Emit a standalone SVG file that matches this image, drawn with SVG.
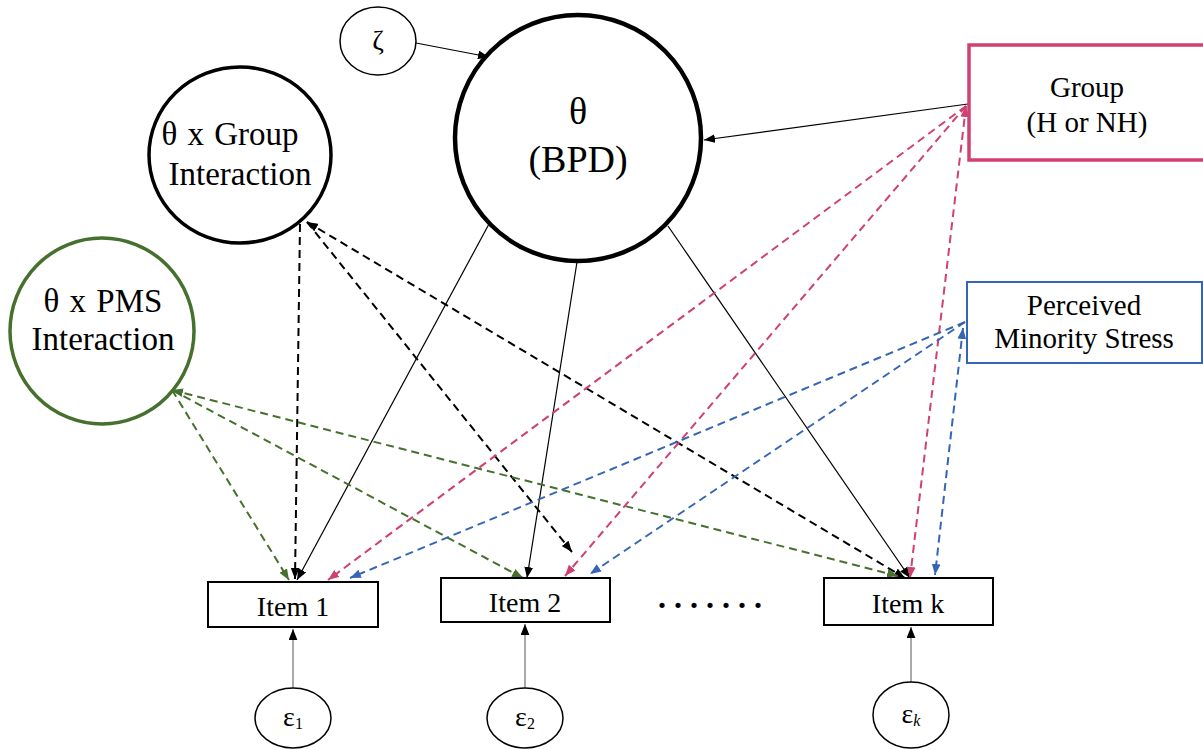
<svg xmlns="http://www.w3.org/2000/svg" width="1203" height="750" viewBox="0 0 1203 750">
<style>
text{font-family:"Liberation Serif","Times New Roman",serif;fill:#000;text-anchor:middle}
.solid{stroke:#000;stroke-width:1.2;fill:none}
.thin{stroke:#555;stroke-width:1;fill:none}
.dk{stroke:#000;stroke-width:2;stroke-dasharray:8 5;fill:none}
.gr{stroke:#46702d;stroke-width:2;stroke-dasharray:8 5;fill:none}
.pk{stroke:#cf4170;stroke-width:2;stroke-dasharray:8 5;fill:none}
.bl{stroke:#3565b5;stroke-width:2;stroke-dasharray:8 5;fill:none}
.box{fill:#fff;stroke:#000;stroke-width:2}
.ell{fill:#fff;stroke:#000;stroke-width:1.5}
</style>
<defs>
<marker id="aK" viewBox="0 0 10 8" refX="10" refY="4" markerWidth="11" markerHeight="9" markerUnits="userSpaceOnUse" orient="auto-start-reverse"><path d="M0,0 L10,4 L0,8 z" fill="#000"/></marker>
<marker id="aG" viewBox="0 0 10 8" refX="10" refY="4" markerWidth="11" markerHeight="9" markerUnits="userSpaceOnUse" orient="auto-start-reverse"><path d="M0,0 L10,4 L0,8 z" fill="#46702d"/></marker>
<marker id="aP" viewBox="0 0 10 8" refX="10" refY="4" markerWidth="11" markerHeight="9" markerUnits="userSpaceOnUse" orient="auto-start-reverse"><path d="M0,0 L10,4 L0,8 z" fill="#cf4170"/></marker>
<marker id="aB" viewBox="0 0 10 8" refX="10" refY="4" markerWidth="11" markerHeight="9" markerUnits="userSpaceOnUse" orient="auto-start-reverse"><path d="M0,0 L10,4 L0,8 z" fill="#3565b5"/></marker>
</defs>
<rect width="1203" height="750" fill="#fff"/>
<g id="connectors">
<path class="solid" d="M416,43 L489,57" marker-end="url(#aK)"/>
<path class="solid" d="M968,104 L704,140" marker-end="url(#aK)"/>
<path class="solid" d="M489,224 L297,580" marker-end="url(#aK)"/>
<path class="solid" d="M577,262 L527,578" marker-end="url(#aK)"/>
<path class="solid" d="M668,226 L910,578" marker-end="url(#aK)"/>
<path class="dk" d="M300,224 L295,579" marker-end="url(#aK)"/>
<path class="dk" d="M307,222 L572,552" marker-end="url(#aK)"/>
<path class="dk" d="M307,222 L905,578" marker-start="url(#aK)" marker-end="url(#aK)"/>
<path class="gr" d="M172,390 L289,580" marker-end="url(#aG)"/>
<path class="gr" d="M172,390 L523,578" marker-end="url(#aG)"/>
<path class="gr" d="M172,390 L898,576" marker-start="url(#aG)" marker-end="url(#aG)"/>
<path class="pk" d="M966,106 L328,580" marker-end="url(#aP)"/>
<path class="pk" d="M966,106 L565,576" marker-end="url(#aP)"/>
<path class="pk" d="M966,106 L910,578" marker-start="url(#aP)" marker-end="url(#aP)"/>
<path class="bl" d="M965,322 L350,578" marker-end="url(#aB)"/>
<path class="bl" d="M965,322 L590,574" marker-end="url(#aB)"/>
<path class="bl" d="M963,328 L935,575" marker-start="url(#aB)" marker-end="url(#aB)"/>
<path class="thin" d="M293,688 L293,629" marker-end="url(#aK)"/>
<path class="thin" d="M525,688 L525,624" marker-end="url(#aK)"/>
<path class="thin" d="M911,682 L911,627" marker-end="url(#aK)"/>
</g>
<g id="zeta">
<ellipse class="ell" cx="378" cy="41" rx="38" ry="34"/>
<text x="378" y="50" font-size="28">ζ</text>
</g>
<g id="theta">
<circle cx="578" cy="138" r="123" fill="#fff" stroke="#000" stroke-width="4.5"/>
<text x="578" y="124" font-size="38">θ</text>
<text x="578" y="172" font-size="38">(BPD)</text>
</g>
<g id="group">
<rect x="969" y="45" width="240" height="115" fill="#fff" stroke="#cf4170" stroke-width="3.5"/>
<text x="1087" y="97" font-size="29">Group</text>
<text x="1087" y="132" font-size="29">(H or NH)</text>
</g>
<g id="group-interaction">
<ellipse cx="240" cy="155" rx="91" ry="88" fill="#fff" stroke="#000" stroke-width="3.5"/>
<text x="230" y="145" font-size="33" word-spacing="2">θ x Group</text>
<text x="240" y="185" font-size="33">Interaction</text>
</g>
<g id="pms-interaction">
<ellipse cx="102" cy="331" rx="92" ry="93" fill="#fff" stroke="#46702d" stroke-width="3.5"/>
<text x="103" y="312" font-size="33" word-spacing="2">θ x PMS</text>
<text x="103" y="350" font-size="33">Interaction</text>
</g>
<g id="pms">
<rect x="967" y="282" width="235" height="81" fill="#fff" stroke="#3565b5" stroke-width="2"/>
<text x="1084" y="315" font-size="29">Perceived</text>
<text x="1084" y="348" font-size="29">Minority Stress</text>
</g>
<g id="item1">
<rect class="box" x="208" y="582" width="170" height="45"/>
<text x="293" y="616" font-size="28">Item 1</text>
</g>
<g id="item2">
<rect class="box" x="441" y="578" width="169" height="44"/>
<text x="525" y="612" font-size="28">Item 2</text>
</g>
<g id="itemk">
<rect class="box" x="824" y="578" width="169" height="47"/>
<text x="908" y="613" font-size="28">Item k</text>
</g>
<g id="dots">
<text x="714" y="608" font-size="32" font-weight="bold" letter-spacing="8">.......</text>
</g>
<g id="eps1">
<ellipse class="ell" cx="293" cy="718" rx="38" ry="30"/>
<text x="293" y="726" font-size="28">ε<tspan font-size="16" dy="3">1</tspan></text>
</g>
<g id="eps2">
<ellipse class="ell" cx="525" cy="718" rx="38" ry="30"/>
<text x="525" y="726" font-size="28">ε<tspan font-size="16" dy="3">2</tspan></text>
</g>
<g id="epsk">
<ellipse class="ell" cx="911" cy="715" rx="38" ry="33"/>
<text x="911" y="723" font-size="28">ε<tspan font-size="16" dy="3" font-style="italic">k</tspan></text>
</g>
</svg>
